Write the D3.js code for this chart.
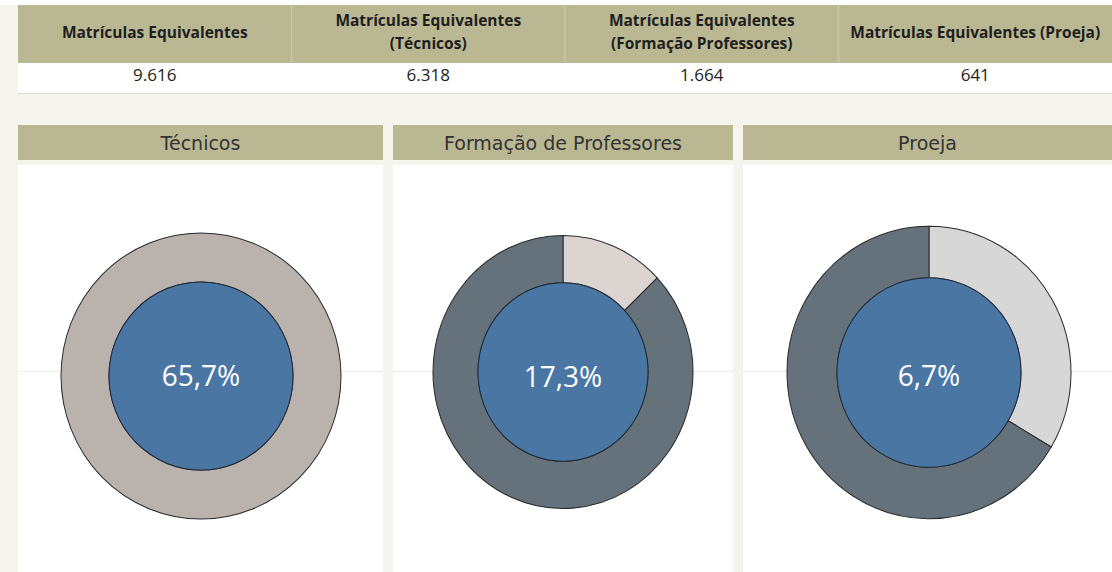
<!DOCTYPE html>
<html>
<head>
<meta charset="utf-8">
<script src="https://cdn.jsdelivr.net/npm/d3@7"></script>
<style>
  html, body { margin: 0; padding: 0; background: #ffffff; }
  svg { display: block; }
</style>
</head>
<body>
<div id="chart"></div>
<script>
// KPI table
const kpiLabels = [
  ["Matrículas Equivalentes"],
  ["Matrículas Equivalentes", "(Técnicos)"],
  ["Matrículas Equivalentes", "(Formação Professores)"],
  ["Matrículas Equivalentes (Proeja)"]
];
const kpiValues = [9616, 6318, 1664, 641];

// donut panels
const panelTitles = ["Técnicos", "Formação de Professores", "Proeja"];
const centerPct = [65.7, 17.3, 6.7];
const ringShares = [[100], [12.9, 87.1], [33.5, 66.5]];
const ringColors = [["#bab2ad"], ["#dbd4d1", "#65717b"], ["#d7d7d7", "#65717b"]];

const W = 1112, H = 572;
const locale = d3.formatLocale({ decimal: ",", thousands: ".", grouping: [3], currency: ["R$", ""] });
const fmtInt = locale.format(",d");
const fmtPct = locale.format(",.1f");

const svg = d3.select("#chart").append("svg")
  .attr("width", W).attr("height", H)
  .style("font-family", "'Open Sans', sans-serif");

// background
svg.append("rect").attr("x", 0).attr("y", 5).attr("width", W).attr("height", H - 5).attr("fill", "#f5f5ee");

//////// KPI table ////////
const kx = d3.scaleBand().domain(d3.range(kpiValues.length)).range([18, W]);
const headTop = 5, headBot = 63, rowBot = 93;

svg.append("rect").attr("x", 18).attr("y", headTop).attr("width", W - 18).attr("height", headBot - headTop).attr("fill", "#bab893");
svg.append("rect").attr("x", 18).attr("y", headBot).attr("width", W - 18).attr("height", rowBot - headBot).attr("fill", "#ffffff");
svg.append("line").attr("x1", 18).attr("x2", W).attr("y1", rowBot + 0.5).attr("y2", rowBot + 0.5).attr("stroke", "#dcdcd6");

const kpi = svg.selectAll(".kpi").data(kpiValues).join("g").attr("class", "kpi");

kpi.filter((d, i) => i > 0).append("line")
  .attr("x1", (d, i) => kx(i + 1)).attr("x2", (d, i) => kx(i + 1))
  .attr("y1", headTop).attr("y2", headBot)
  .attr("stroke", "#c9c8a8").attr("stroke-width", 1.5);

kpi.append("text")
  .attr("text-anchor", "middle")
  .attr("font-size", "15.5px").attr("font-weight", 700).attr("fill", "#1e1e1e")
  .each(function (d, i) {
    const lines = kpiLabels[i];
    const cx = kx(i) + kx.bandwidth() / 2;
    const y0 = lines.length === 1 ? 38 : 26;
    d3.select(this).selectAll("tspan").data(lines).join("tspan")
      .attr("x", cx).attr("y", (t, j) => y0 + j * 23).text(t => t);
  });

kpi.append("text")
  .attr("x", (d, i) => kx(i) + kx.bandwidth() / 2)
  .attr("y", 81)
  .attr("text-anchor", "middle")
  .attr("font-size", "17px").attr("fill", "#222")
  .text(d => fmtInt(d));

//////// donut panels ////////
const panels = [
  { x0: 18, x1: 383, cx: 201, cy: 376, R: 140, r: 92, sy: 1.022 },
  { x0: 393, x1: 733, cx: 563, cy: 372, R: 130, r: 85, sy: 1.05 },
  { x0: 743, x1: 1112, cx: 929, cy: 372.5, R: 142, r: 92, sy: 1.03 }
];
const titleTop = 125, titleBot = 160, bodyTop = 165;
const zeroY = 371;

const pie = d3.pie().sort(null).value(d => d);

const pg = svg.selectAll(".panel").data(panels).join("g").attr("class", "panel");

pg.append("rect")
  .attr("x", d => d.x0).attr("y", titleTop)
  .attr("width", d => d.x1 - d.x0).attr("height", titleBot - titleTop)
  .attr("fill", "#bab893");

pg.append("text")
  .attr("x", d => (d.x0 + d.x1) / 2).attr("y", 150)
  .attr("text-anchor", "middle")
  .attr("font-family", "'DejaVu Sans', sans-serif")
  .attr("font-size", "19px").attr("fill", "#333")
  .text((d, i) => panelTitles[i]);

pg.append("rect")
  .attr("x", d => d.x0).attr("y", bodyTop)
  .attr("width", d => d.x1 - d.x0).attr("height", H - bodyTop)
  .attr("fill", "#ffffff");

pg.append("line")
  .attr("x1", d => d.x0).attr("x2", d => d.x1)
  .attr("y1", zeroY + 0.5).attr("y2", zeroY + 0.5)
  .attr("stroke", "#ececec");

pg.each(function (p, i) {
  const g = d3.select(this).append("g")
    .attr("transform", `translate(${p.cx},${p.cy}) scale(1,${p.sy})`);
  const arc = d3.arc().innerRadius(p.r).outerRadius(p.R);

  g.selectAll("path.ring").data(pie(ringShares[i])).join("path")
    .attr("class", "ring")
    .attr("d", arc)
    .attr("fill", (d, j) => ringColors[i][j])
    .attr("stroke", "#2a2a2a").attr("stroke-width", 1);

  g.append("circle").attr("r", p.r)
    .attr("fill", "#4a76a4")
    .attr("stroke", "#1f2a36").attr("stroke-width", 1);

  g.append("text")
    .attr("text-anchor", "middle")
    .attr("y", 376 - p.cy).attr("dy", "0.36em")
    .attr("font-size", "28px").attr("fill", "#ffffff")
    .text(fmtPct(centerPct[i]) + "%");
});
</script>
</body>
</html>
